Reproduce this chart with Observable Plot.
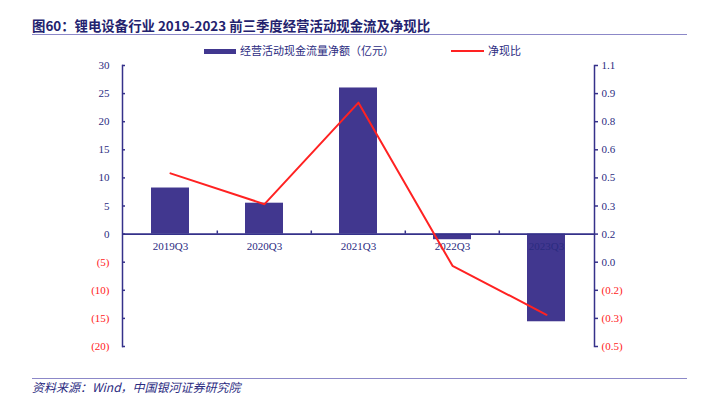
<!DOCTYPE html>
<html><head><meta charset="utf-8">
<script src="https://cdn.jsdelivr.net/npm/d3@7"></script>
<script src="https://cdn.jsdelivr.net/npm/@observablehq/plot@0.6"></script>
<style>
body{margin:0;background:#fff;}
#wrap{position:relative;width:707px;height:395px;overflow:hidden;}
.title{position:absolute;left:32px;top:15px;font:bold 13.4px "Noto Sans CJK SC","Liberation Serif",serif;color:#23226e;white-space:nowrap;}
.rule{position:absolute;left:32px;width:655px;height:1px;background:#8c88c8;}
.leg{position:absolute;top:42px;font:11px "Noto Sans CJK SC",serif;color:#2b2b7f;white-space:nowrap;}
.foot{position:absolute;left:32px;top:378px;font:italic 12px "Noto Sans CJK SC","Liberation Serif",serif;color:#2b2b7f;white-space:nowrap;}
svg{position:absolute;left:0;top:0;}
</style></head>
<body><div id="wrap">
<div class="title">图60：锂电设备行业 2019-2023 前三季度经营活动现金流及净现比</div>
<div class="rule" style="top:34px"></div>
<div class="leg" style="left:204px"><span style="display:inline-block;width:32px;height:5px;background:#41378f;vertical-align:middle;margin-right:4px;position:relative;top:-1px"></span>经营活动现金流量净额（亿元）</div>
<div class="leg" style="left:451px"><span style="display:inline-block;width:33px;height:2px;background:#ff2222;vertical-align:middle;margin-right:4px;position:relative;top:-1px"></span>净现比</div>
<div class="rule" style="top:378px"></div>
<div class="foot">资料来源：Wind，中国银河证券研究院</div>
</div>
<script>
const categories = ["2019Q3","2020Q3","2021Q3","2022Q3","2023Q3"];
const cashFlow = [8.2, 5.5, 26.0, -1.0, -15.6];
const netRatio = [0.49, 0.32, 0.88, -0.02, -0.29];
const leftTicks = [-20,-15,-10,-5,0,5,10,15,20,25,30];
const leftTickLabels = ["(20)","(15)","(10)","(5)","0","5","10","15","20","25","30"];
const rightTickLabels = ["(0.5)","(0.3)","(0.2)","0.0","0.2","0.3","0.5","0.6","0.8","0.9","1.1"];
// secondary axis: ratio r mapped onto left-axis units
const ratioPerUnit = 0.031, ratioOffset = 5;
const toLeft = r => r / ratioPerUnit - ratioOffset;

const data = categories.map((c, i) => ({cat: c, cash: cashFlow[i], ratio: netRatio[i]}));
const navy = "#2b2b7f", axisC = "#35318a", red = "#ff2222";
const leftLab = new Map(leftTicks.map((t, i) => [t, leftTickLabels[i]]));
const rightLab = new Map(leftTicks.map((t, i) => [t, rightTickLabels[i]]));
const neg = leftTicks.filter(t => t < 0), nonneg = leftTicks.filter(t => t >= 0);
const rNeg = leftTicks.slice(0, 3), rPos = leftTicks.slice(3);
const W = 707, H = 395, mL = 122, mR = 113, mT = 65, mB = 49;
const step = (W - mL - mR) / categories.length;

const chart = Plot.plot({
  width: W, height: H, marginLeft: mL, marginRight: mR, marginTop: mT, marginBottom: mB,
  style: {fontFamily: "'Liberation Serif', serif", fontSize: "11px", background: "transparent"},
  x: {domain: categories, paddingInner: 0.6, paddingOuter: 0.3, axis: null},
  y: {domain: [-20, 30], axis: null},
  marks: [
    Plot.barY(data, {x: "cat", y: "cash", fill: "#41378f"}),
    Plot.ruleY([0], {stroke: axisC, strokeWidth: 1.6}),
    Plot.ruleX(categories.slice(1), {x: d => d, y1: 0, y2: 0.55, dx: -step / 2, stroke: axisC, strokeWidth: 1.5}),
    Plot.text(categories, {x: d => d, y: 0, dy: 12, fill: navy, fontSize: 11}),
    Plot.line(data, {x: "cat", y: d => toLeft(d.ratio), stroke: red, strokeWidth: 2}),
    Plot.frame({anchor: "left", stroke: axisC, strokeWidth: 1.5}),
    Plot.frame({anchor: "right", stroke: axisC, strokeWidth: 1.5}),
    Plot.axisY({anchor: "left", label: null, ticks: leftTicks, tickSize: -3, tickFormat: () => "", stroke: axisC, strokeWidth: 1.5}),
    Plot.axisY({anchor: "left", label: null, ticks: nonneg, tickSize: 0, tickPadding: 13, tickFormat: d => leftLab.get(d), fill: navy, fontSize: 11}),
    Plot.axisY({anchor: "left", label: null, ticks: neg, tickSize: 0, tickPadding: 13, tickFormat: d => leftLab.get(d), fill: red, fontSize: 11}),
    Plot.axisY({anchor: "right", label: null, ticks: leftTicks, tickSize: 3, tickFormat: () => "", stroke: axisC, strokeWidth: 1.5}),
    Plot.axisY({anchor: "right", label: null, ticks: rPos, tickSize: 0, tickPadding: 7, tickFormat: d => rightLab.get(d), fill: navy, fontSize: 11}),
    Plot.axisY({anchor: "right", label: null, ticks: rNeg, tickSize: 0, tickPadding: 7, tickFormat: d => rightLab.get(d), fill: red, fontSize: 11})
  ]
});
document.getElementById("wrap").appendChild(chart);
</script>
</body></html>
